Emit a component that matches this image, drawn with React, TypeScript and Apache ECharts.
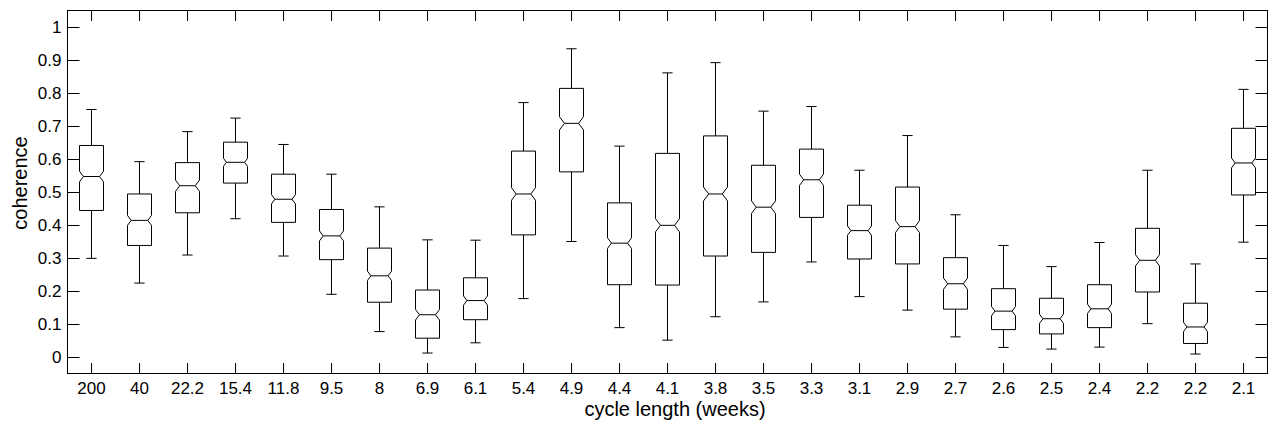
import React, { useEffect, useRef } from "react";
import * as echarts from "echarts";

const categories = ["200", "40", "22.2", "15.4", "11.8", "9.5", "8", "6.9", "6.1", "5.4", "4.9", "4.4", "4.1", "3.8", "3.5", "3.3", "3.1", "2.9", "2.7", "2.6", "2.5", "2.4", "2.2", "2.2", "2.1"];
const whiskerHigh = [0.750, 0.592, 0.683, 0.724, 0.644, 0.554, 0.455, 0.355, 0.354, 0.771, 0.934, 0.639, 0.861, 0.892, 0.745, 0.759, 0.566, 0.671, 0.431, 0.338, 0.274, 0.347, 0.566, 0.282, 0.811];
const q3 = [0.641, 0.494, 0.589, 0.651, 0.554, 0.447, 0.330, 0.203, 0.240, 0.624, 0.814, 0.467, 0.617, 0.670, 0.581, 0.630, 0.460, 0.515, 0.301, 0.207, 0.178, 0.219, 0.390, 0.163, 0.693];
const median = [0.547, 0.414, 0.519, 0.590, 0.478, 0.367, 0.246, 0.128, 0.171, 0.494, 0.708, 0.345, 0.399, 0.494, 0.454, 0.537, 0.383, 0.395, 0.222, 0.139, 0.116, 0.146, 0.293, 0.091, 0.588];
const q1 = [0.444, 0.338, 0.437, 0.527, 0.408, 0.295, 0.166, 0.057, 0.113, 0.370, 0.561, 0.219, 0.218, 0.306, 0.317, 0.423, 0.297, 0.282, 0.145, 0.083, 0.070, 0.089, 0.197, 0.041, 0.491];
const whiskerLow = [0.299, 0.224, 0.309, 0.419, 0.306, 0.190, 0.077, 0.012, 0.043, 0.177, 0.350, 0.089, 0.051, 0.122, 0.167, 0.288, 0.183, 0.142, 0.061, 0.029, 0.024, 0.030, 0.101, 0.009, 0.348];
const notchHalf = [0.016, 0.015, 0.017, 0.012, 0.014, 0.015, 0.014, 0.016, 0.014, 0.019, 0.020, 0.016, 0.020, 0.021, 0.019, 0.017, 0.014, 0.018, 0.017, 0.014, 0.014, 0.014, 0.017, 0.014, 0.015];
const yTicks = [0, 0.1, 0.2, 0.3, 0.4, 0.5, 0.6, 0.7, 0.8, 0.9, 1];

const FONT = "'Liberation Sans', Arial, Helvetica, sans-serif";

export default function App() {
  const ref = useRef<HTMLDivElement>(null);

  useEffect(() => {
    if (!ref.current) return;
    const chart = echarts.init(ref.current, undefined, { renderer: "svg" });

    const data = categories.map((_, i) => [
      i,
      whiskerLow[i],
      q1[i],
      median[i] - notchHalf[i],
      median[i],
      median[i] + notchHalf[i],
      q3[i],
      whiskerHigh[i],
    ]);

    const stroke = { stroke: "#000", lineWidth: 1, fill: "none" };

    const renderItem = (params: any, api: any) => {
      const i = api.value(0);
      const band = api.size([1, 0])[0];
      const hw = band * 0.25;
      const capW = band * 0.107;
      const cx = api.coord([i, 0])[0];
      const y = (k: number) => api.coord([i, api.value(k)])[1];
      const yWl = y(1), yQ1 = y(2), yNl = y(3), yMed = y(4), yNh = y(5), yQ3 = y(6), yWh = y(7);
      const notchPx = Math.abs(yNl - yNh) / 2;
      const inset = Math.min(notchPx * 0.75, hw * 0.6);
      const L = cx - hw, R = cx + hw;
      const points = [
        [L, yQ3], [R, yQ3], [R, yNh], [R - inset, yMed], [R, yNl], [R, yQ1],
        [L, yQ1], [L, yNl], [L + inset, yMed], [L, yNh],
      ];
      return {
        type: "group",
        children: [
          { type: "line", shape: { x1: cx, y1: yQ3, x2: cx, y2: yWh }, style: stroke },
          { type: "line", shape: { x1: cx, y1: yQ1, x2: cx, y2: yWl }, style: stroke },
          { type: "line", shape: { x1: cx - capW, y1: yWh, x2: cx + capW, y2: yWh }, style: stroke },
          { type: "line", shape: { x1: cx - capW, y1: yWl, x2: cx + capW, y2: yWl }, style: stroke },
          { type: "polygon", shape: { points }, style: { stroke: "#000", lineWidth: 1, fill: "#fff" } },
          { type: "line", shape: { x1: L + inset, y1: yMed, x2: R - inset, y2: yMed }, style: stroke },
        ],
      };
    };

    const yLabelFmt = (v: number) => String(+Number(v).toFixed(1));

    const commonX = {
      type: "category" as const,
      data: categories,
      boundaryGap: true,
      axisLine: { show: true, onZero: false, lineStyle: { color: "#000", width: 1 } },
      axisTick: { show: true, inside: true, alignWithLabel: true, length: 10.5, lineStyle: { color: "#000", width: 1 } },
      splitLine: { show: false },
    };
    const commonY = {
      type: "value" as const,
      min: -0.05,
      max: 1.05,
      axisLine: { show: true, onZero: false, lineStyle: { color: "#000", width: 1 } },
      axisTick: { show: true, inside: true, length: 12, customValues: yTicks, lineStyle: { color: "#000", width: 1 } },
      splitLine: { show: false },
    };

    chart.setOption({
      animation: false,
      backgroundColor: "#fff",
      grid: { left: 67.5, top: 10.5, width: 1200, height: 363, containLabel: false },
      xAxis: [
        {
          ...commonX,
          position: "bottom",
          axisLabel: { show: true, color: "#000", fontSize: 17, fontFamily: FONT, margin: 6, interval: 0 },
        },
        {
          ...commonX,
          position: "top",
          axisLabel: { show: false },
        },
      ],
      yAxis: [
        {
          ...commonY,
          position: "left",
          axisLabel: { show: true, color: "#000", fontSize: 17, fontFamily: FONT, margin: 6, customValues: yTicks, formatter: yLabelFmt },
        },
        {
          ...commonY,
          position: "right",
          axisLabel: { show: false },
        },
      ],
      graphic: [
        {
          type: "text",
          x: 19.5,
          y: 183,
          rotation: Math.PI / 2,
          style: { text: "coherence", fill: "#000", font: `20px ${FONT}`, textAlign: "center", textVerticalAlign: "middle" },
        },
        {
          type: "text",
          x: 675,
          y: 409,
          style: { text: "cycle length (weeks)", fill: "#000", font: `20px ${FONT}`, textAlign: "center", textVerticalAlign: "middle" },
        },
      ],
      series: [
        {
          type: "custom",
          renderItem,
          data,
          encode: { x: 0, y: [1, 2, 3, 4, 5, 6, 7] },
          xAxisIndex: 0,
          yAxisIndex: 0,
          clip: false,
        },
      ],
    });

    return () => chart.dispose();
  }, []);

  return (
    <div
      ref={ref}
      style={{ position: "fixed", left: 0, top: 0, width: 1275, height: 428, background: "#fff" }}
    />
  );
}
